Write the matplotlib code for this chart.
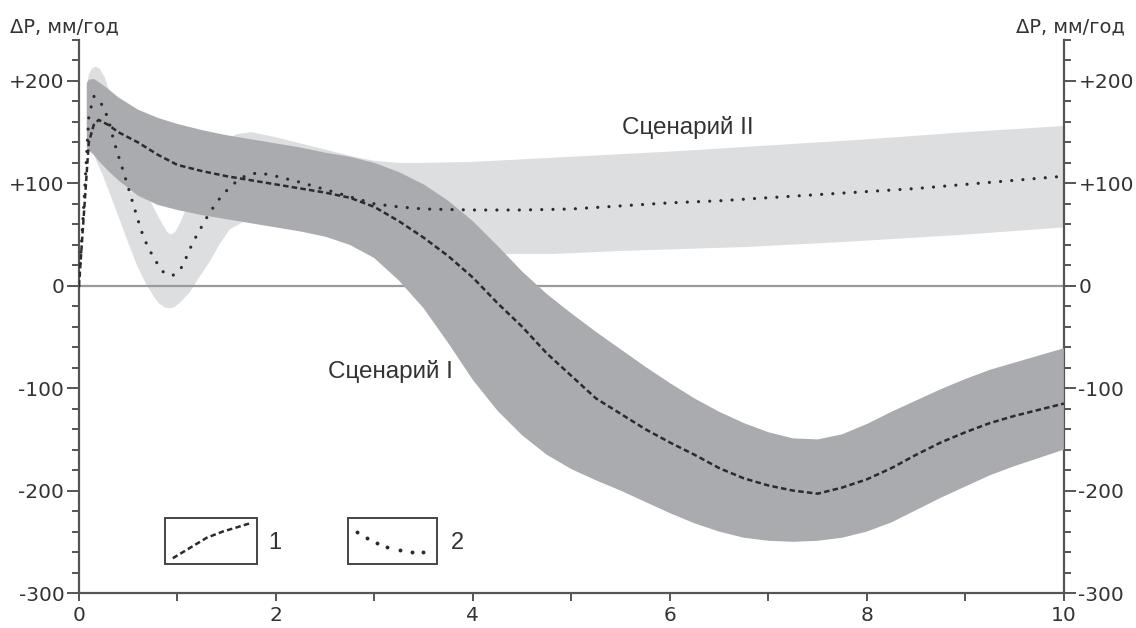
import numpy as np
import matplotlib
matplotlib.use("Agg")
import matplotlib.pyplot as plt
from matplotlib.patches import Rectangle
from matplotlib.ticker import MultipleLocator, FixedLocator, FixedFormatter

# --- Scenario I: mean curve (dashed) and dark uncertainty band ---
s1_x = [0, 0.05, 0.1, 0.15, 0.2, 0.3, 0.4, 0.6, 0.8, 1.0, 1.25, 1.5, 1.75, 2.0,
        2.25, 2.5, 2.75, 3.0, 3.25, 3.5, 3.75, 4.0, 4.25, 4.5, 4.75, 5.0, 5.25,
        5.5, 5.75, 6.0, 6.25, 6.5, 6.75, 7.0, 7.25, 7.5, 7.75, 8.0, 8.25, 8.5,
        8.75, 9.0, 9.25, 9.5, 9.75, 10]
s1_mid = [0, 70, 140, 157, 162, 157, 150, 140, 128, 118, 112, 107, 103, 99,
          95, 91, 86, 77, 63, 47, 29, 8, -17, -40, -66, -88, -110,
          -125, -140, -153, -165, -178, -188, -195, -200, -203, -197, -189, -178, -165,
          -153, -143, -134, -127, -121, -115]

s1_band_x = [0.08, 0.1, 0.15, 0.2, 0.3, 0.4, 0.6, 0.8, 1.0, 1.25, 1.5, 1.75, 2.0,
             2.25, 2.5, 2.75, 3.0, 3.25, 3.5, 3.75, 4.0, 4.25, 4.5, 4.75, 5.0,
             5.25, 5.5, 5.75, 6.0, 6.25, 6.5, 6.75, 7.0, 7.25, 7.5, 7.75, 8.0,
             8.25, 8.5, 8.75, 9.0, 9.25, 9.5, 9.75, 10]
s1_upper = [198, 201, 202, 199, 192, 184, 172, 164, 158, 152, 147, 143, 139,
            135, 130, 126, 120, 111, 99, 83, 63, 39, 14, -8, -27,
            -45, -62, -79, -95, -110, -123, -134, -143, -149, -150, -145, -135,
            -123, -112, -101, -91, -82, -75, -68, -61]
s1_lower = [135, 132, 128, 122, 112, 103, 88, 79, 74, 69, 65, 61, 57,
            53, 48, 40, 27, 5, -22, -56, -92, -122, -146, -165, -179,
            -190, -200, -211, -222, -232, -240, -246, -249, -250, -249, -246, -240,
            -231, -219, -207, -196, -185, -176, -168, -160]

# --- Scenario II: mean curve (dotted) and light uncertainty band ---
s2_x = [0, 0.05, 0.1, 0.15, 0.2, 0.25, 0.3, 0.35, 0.4, 0.45, 0.5, 0.55, 0.6,
        0.65, 0.7, 0.75, 0.8, 0.85, 0.9, 0.95, 1.0, 1.05, 1.1, 1.15, 1.2, 1.3,
        1.4, 1.5, 1.6, 1.7, 1.8, 1.9, 2.0, 2.25, 2.5, 2.75, 3.0, 3.25, 3.5,
        4.0, 4.5, 5.0, 5.5, 6.0, 6.5, 7.0, 7.5, 8.0, 8.5, 9.0, 9.5, 10]
s2_mid = [0, 80, 165, 185, 182, 174, 162, 143, 127, 112, 96, 80, 64,
          49, 38, 29, 21, 14, 11, 10, 13, 19, 30, 41, 50, 67,
          82, 93, 102, 108, 110, 109, 107, 101, 94, 87, 80, 77, 75,
          74, 74, 75, 78, 81, 83, 86, 89, 92, 95, 99, 103, 107]

s2_up_x = [0.08, 0.1, 0.13, 0.17, 0.21, 0.26, 0.3, 0.4, 0.5, 0.6, 0.7, 0.78,
           0.85, 0.9, 0.94, 0.98, 1.03, 1.1, 1.2, 1.3, 1.45, 1.6, 1.75, 1.9,
           2.0, 2.25, 2.5, 2.75, 3.0, 3.25, 3.5, 4.0, 5.0, 6.0, 7.0, 8.0, 9.0, 10]
s2_upper = [196, 206, 212, 214, 212, 204, 192, 160, 135, 110, 88, 72,
            60, 52, 50, 53, 62, 78, 100, 120, 140, 148, 150, 147,
            145, 139, 133, 127, 122, 120, 120, 121, 126, 131, 137, 143, 150, 156]
s2_lo_x = [0.08, 0.15, 0.25, 0.42, 0.5, 0.59, 0.67, 0.75, 0.81, 0.87, 0.92,
           0.97, 1.03, 1.12, 1.2, 1.33, 1.43, 1.53, 1.7, 2.0, 2.5, 3.0, 3.5,
           4.0, 4.8, 5.5, 6.8, 7.8, 9.0, 10]
s2_lower = [140, 128, 106, 63, 42, 20, 4, -9, -17, -21, -22,
            -21, -16, -7, 5, 24, 41, 55, 64, 62, 50, 38, 32,
            31, 31, 34, 38, 43, 50, 57]

# --- legend samples ---
leg1_x = [0.953, 1.126, 1.298, 1.46, 1.633, 1.734]
leg1_y = [-266, -256, -246, -240, -235, -232]
leg2_x = [2.82, 2.92, 3.03, 3.13, 3.26, 3.38, 3.49]
leg2_y = [-240, -246, -251, -255, -258, -260, -260]

y_ticks = [-300, -200, -100, 0, 100, 200]
y_tick_labels = ["-300", "-200", "-100", "0", "+100", "+200"]
x_ticks = [0, 2, 4, 6, 8, 10]
y_title = "\u0394P, мм/год"

axis_col = "#555555"
dark_band = "#a9abae"
light_band = "#dcdee0"
line_col = "#2b2b2b"
text_col = "#333333"

fig = plt.figure(figsize=(11.36, 6.28), dpi=100)
ax = fig.add_axes([0.0695, 0.0557, 0.867, 0.8806])
ax.set_xlim(0, 10)
ax.set_ylim(-300, 240)

# bands: light under, zero line, dark on top
ax.fill(np.r_[s2_up_x, s2_lo_x[::-1]], np.r_[s2_upper, s2_lower[::-1]],
        color=light_band, lw=0, zorder=1)
ax.axhline(0, color="#9a9a9a", lw=1.6, zorder=2)
ax.fill(np.r_[s1_band_x, s1_band_x[::-1]], np.r_[s1_upper, s1_lower[::-1]],
        color=dark_band, lw=0, zorder=3)

ax.plot(s1_x, s1_mid, color=line_col, lw=1.8, dashes=(2.2, 1.3), zorder=4)
ax.plot(s2_x, s2_mid, color=line_col, lw=2.3, linestyle=(0, (0.01, 3.5)),
        dash_capstyle="round", zorder=4)

ax.text(6.18, 155, "Сценарий II", ha="center", va="center", fontsize=17.5,
        family="Liberation Sans", color=text_col, zorder=6)
ax.text(3.16, -84, "Сценарий I", ha="center", va="center", fontsize=17.5,
        family="Liberation Sans", color=text_col, zorder=6)

# legend boxes
ax.add_patch(Rectangle((0.87, -272), 0.94, 45, fill=False, ec="#444444", lw=1.4, zorder=5))
ax.add_patch(Rectangle((2.73, -272), 0.91, 45, fill=False, ec="#444444", lw=1.4, zorder=5))
ax.plot(leg1_x, leg1_y, color=line_col, lw=1.8, dashes=(2.2, 1.3), zorder=6)
ax.plot(leg2_x, leg2_y, "o", color=line_col, ms=2.8, mew=0, zorder=6)
ax.text(1.99, -251, "1", ha="center", va="center", fontsize=17,
        family="Liberation Sans", color=text_col)
ax.text(3.84, -251, "2", ha="center", va="center", fontsize=17,
        family="Liberation Sans", color=text_col)

# axes styling
ax.spines["top"].set_visible(False)
for side in ["left", "right", "bottom"]:
    ax.spines[side].set_color(axis_col)
    ax.spines[side].set_linewidth(1.6)

ax.yaxis.set_major_locator(FixedLocator(y_ticks))
ax.yaxis.set_major_formatter(FixedFormatter(y_tick_labels))
ax.yaxis.set_minor_locator(MultipleLocator(20))
ax.xaxis.set_major_locator(FixedLocator(x_ticks))
ax.xaxis.set_minor_locator(MultipleLocator(1))

ax.tick_params(axis="y", which="both", left=True, right=True,
               labelleft=True, labelright=True, direction="out",
               color=axis_col, width=1.4, labelcolor=text_col,
               labelsize=14.5, labelfontfamily="DejaVu Sans")
ax.tick_params(axis="y", which="major", length=8.5, pad=2)
ax.tick_params(axis="y", which="minor", length=5)
ax.tick_params(axis="x", which="both", direction="out", length=6,
               color=axis_col, width=1.4, labelcolor=text_col,
               labelsize=14.5, labelfontfamily="DejaVu Sans", pad=3)

fig.text(0.009, 0.957, y_title, ha="left", va="center", fontsize=14,
         family="DejaVu Sans", color=text_col)
fig.text(0.990, 0.957, y_title, ha="right", va="center", fontsize=14,
         family="DejaVu Sans", color=text_col)

fig.savefig("out.png", dpi=100, facecolor="white")
